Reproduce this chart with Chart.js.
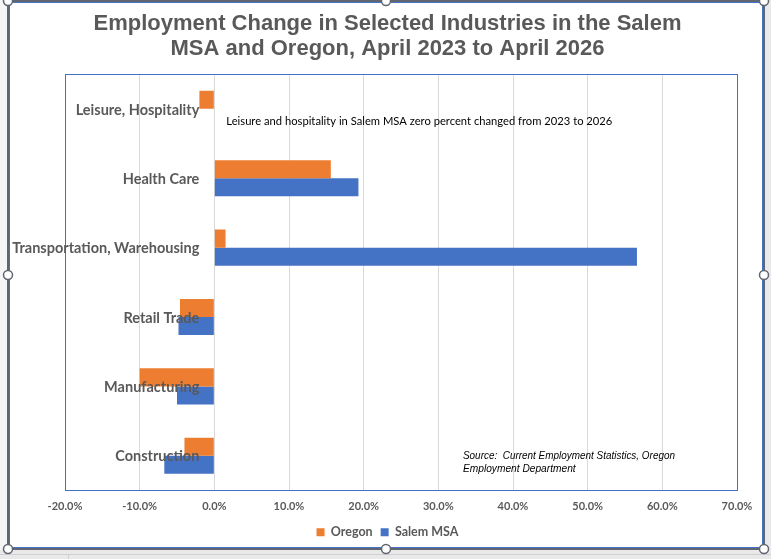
<!DOCTYPE html>
<html>
<head>
<meta charset="utf-8">
<script src="https://cdn.jsdelivr.net/npm/chart.js@4.4.0/dist/chart.umd.min.js"></script>
<style>
  html, body { margin: 0; padding: 0; background: #ececec; }
  #wrap { width: 771px; height: 559px; position: relative; }
</style>
</head>
<body>
<div id="wrap"><canvas id="myChart" width="771" height="559"></canvas></div>
<script>
// data (percent change, April 2023 to April 2026)
const industries = ["Leisure, Hospitality", "Health Care", "Transportation, Warehousing", "Retail Trade", "Manufacturing", "Construction"];
const oregon = [-2.0, 15.6, 1.5, -4.6, -10.0, -4.0];
const salemMSA = [0.0, 19.3, 56.6, -4.8, -5.0, -6.7];
const xMin = -20, xMax = 70, xStep = 10;

const titleLines = ["Employment Change in Selected Industries in the Salem", "MSA and Oregon, April 2023 to April 2026"];
const noteText = "Leisure and hospitality in Salem MSA zero percent changed from 2023 to 2026";
const sourceLines = ["Source:  Current Employment Statistics, Oregon", "Employment Department"];

const grey = "#595959";
const orange = "#ED7D31";
const blue = "#4472C4";

// the selected-chart frame round the whole thing
const framePlugin = {
  id: "frame",
  beforeDraw(chart) {
    const ctx = chart.ctx;
    ctx.save();
    ctx.fillStyle = "#e9e9e9";
    ctx.fillRect(0, 0, chart.width, chart.height);
    ctx.fillStyle = "#f5f5f5";
    ctx.fillRect(0, 0, 9, 550);
    ctx.fillStyle = "#ffffff";
    ctx.fillRect(9, 1, 755, 548);
    ctx.strokeStyle = "#d0d0d0";
    ctx.beginPath();
    ctx.moveTo(0, 554.5); ctx.lineTo(771, 554.5);
    ctx.moveTo(68.5, 554); ctx.lineTo(68.5, 559);
    ctx.stroke();
    ctx.restore();
  },
  afterDraw(chart) {
    const ctx = chart.ctx;
    ctx.save();
    ctx.strokeStyle = "#5f6670";
    ctx.lineWidth = 2;
    ctx.strokeRect(8, 1, 756, 548);
    ctx.strokeStyle = blue;
    ctx.lineWidth = 1;
    ctx.strokeRect(9.5, 2.5, 753, 545);
    const pts = [[8, 1], [386, 1], [764, 1], [8, 275], [764, 275], [8, 549], [386, 549], [764, 549]];
    ctx.fillStyle = "#ffffff";
    ctx.strokeStyle = "#5f6670";
    ctx.lineWidth = 1.5;
    pts.forEach(p => {
      ctx.beginPath();
      ctx.arc(p[0], p[1], 4.5, 0, Math.PI * 2);
      ctx.fill();
      ctx.stroke();
    });
    ctx.restore();
  }
};

// plot area box, category labels next to the zero line, and the two notes
const labelsPlugin = {
  id: "labels",
  afterDatasetsDraw(chart) {
    const ctx = chart.ctx;
    const a = chart.chartArea;
    const xs = chart.scales.x;
    const ys = chart.scales.y;
    ctx.save();
    ctx.strokeStyle = blue;
    ctx.lineWidth = 1;
    ctx.strokeRect(Math.round(a.left) + 0.5, Math.round(a.top) + 0.5, Math.round(a.right - a.left), Math.round(a.bottom - a.top));

    ctx.fillStyle = grey;
    ctx.font = "bold 14.5px Lato";
    ctx.textAlign = "right";
    ctx.textBaseline = "middle";
    const x0 = xs.getPixelForValue(0);
    industries.forEach((name, i) => {
      ctx.fillText(name, x0 - 15, ys.getPixelForTick(i) + 1);
    });

    ctx.fillStyle = "#000000";
    ctx.textAlign = "left";
    ctx.font = "11.5px Lato";
    ctx.fillText(noteText, x0 + 12, ys.getPixelForTick(0) + 12, 386);

    ctx.font = "italic 10.2px 'Liberation Sans'";
    ctx.fillText(sourceLines[0], xs.getPixelForValue(33.3), a.bottom - 34, 212);
    ctx.fillText(sourceLines[1], xs.getPixelForValue(33.3), a.bottom - 21);
    ctx.restore();
  }
};

const ctx = document.getElementById("myChart").getContext("2d");
new Chart(ctx, {
  type: "bar",
  data: {
    labels: industries,
    datasets: [
      { label: "Oregon", data: oregon, backgroundColor: orange },
      { label: "Salem MSA", data: salemMSA, backgroundColor: blue }
    ]
  },
  options: {
    indexAxis: "y",
    responsive: false,
    animation: false,
    categoryPercentage: 0.52,
    barPercentage: 1.0,
    layout: { padding: { left: 38, right: 34, top: 0, bottom: 10.5 } },
    scales: {
      x: {
        min: xMin,
        max: xMax,
        afterFit: scale => { scale.height = 27.5; },
        ticks: {
          stepSize: xStep,
          padding: 9.5,
          color: grey,
          font: { family: "Lato", size: 11, weight: "bold" },
          callback: v => v.toFixed(1) + "%"
        },
        grid: { color: "#d9d9d9", drawTicks: false },
        border: { display: false }
      },
      y: {
        afterFit: scale => { scale.width = 27; },
        ticks: { display: false },
        grid: { display: false, drawTicks: false },
        border: { display: false }
      }
    },
    plugins: {
      title: {
        display: true,
        text: titleLines,
        color: grey,
        font: { family: "'Liberation Sans'", size: 22, weight: "bold", lineHeight: 1.14 },
        padding: { top: 11, bottom: 13 }
      },
      legend: {
        position: "bottom",
        labels: {
          boxWidth: 8,
          boxHeight: 8,
          padding: 8,
          color: grey,
          font: { family: "Lato", size: 12.5, weight: "bold" }
        }
      },
      tooltip: { enabled: false }
    }
  },
  plugins: [framePlugin, labelsPlugin]
});
</script>
</body>
</html>
